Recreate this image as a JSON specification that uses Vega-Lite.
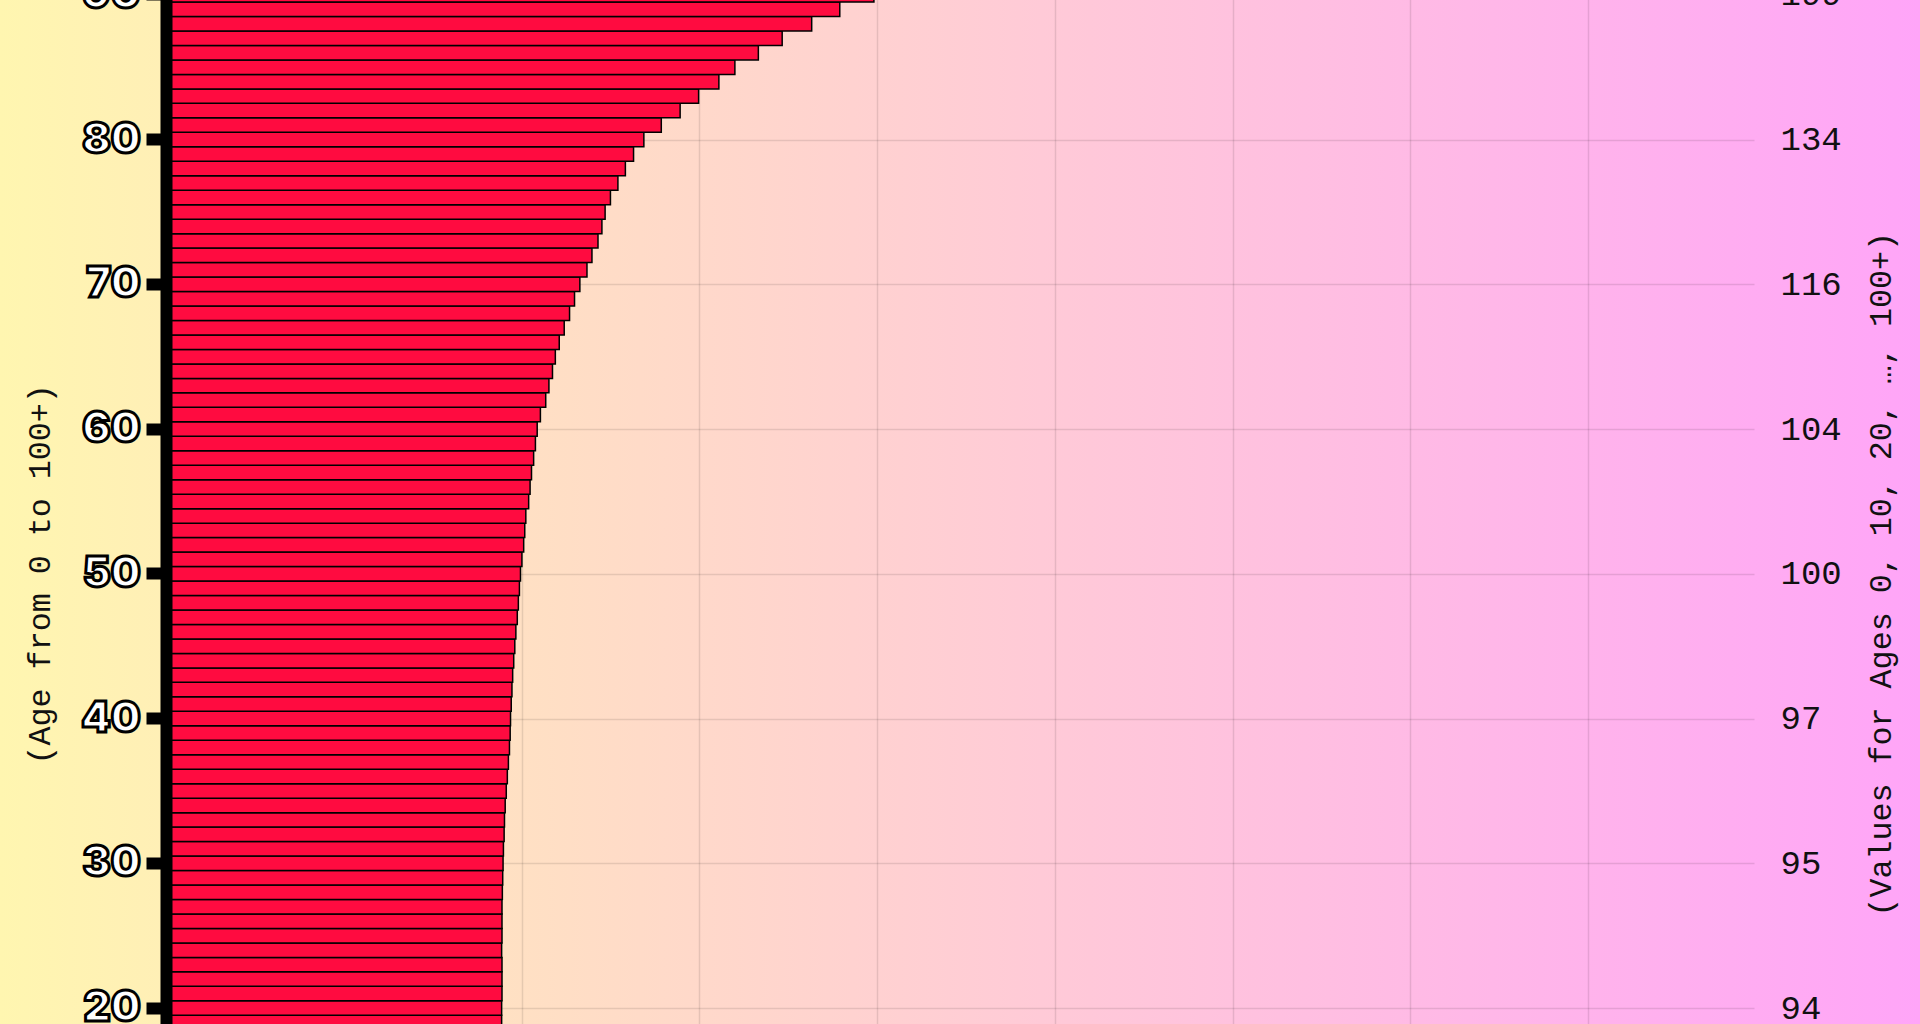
{
  "$schema": "https://vega.github.io/schema/vega-lite/v6.json",
  "width": 1920,
  "height": 1024,
  "autosize": {"type": "none"},
  "padding": 0,
  "background": "#fff6b0",
  "view": {
    "stroke": null,
    "fill": {
      "gradient": "linear",
      "x1": 0, "y1": 0, "x2": 1, "y2": 0,
      "stops": [
        {"offset": 0, "color": "#fff6b0"},
        {"offset": 1, "color": "#ffa5f8"}
      ]
    }
  },
  "data": {
    "values": [
      {"Age": 0, "Value": 100.0}, {"Age": 1, "Value": 96.0}, {"Age": 2, "Value": 95.0},
      {"Age": 3, "Value": 94.6}, {"Age": 4, "Value": 94.4}, {"Age": 5, "Value": 94.3},
      {"Age": 6, "Value": 94.2}, {"Age": 7, "Value": 94.2}, {"Age": 8, "Value": 94.1},
      {"Age": 9, "Value": 94.1}, {"Age": 10, "Value": 94.1}, {"Age": 11, "Value": 94.1},
      {"Age": 12, "Value": 94.2}, {"Age": 13, "Value": 94.2}, {"Age": 14, "Value": 94.2},
      {"Age": 15, "Value": 94.3}, {"Age": 16, "Value": 94.3}, {"Age": 17, "Value": 94.3},
      {"Age": 18, "Value": 94.4}, {"Age": 19, "Value": 94.4}, {"Age": 20, "Value": 94.4},
      {"Age": 21, "Value": 94.5}, {"Age": 22, "Value": 94.5}, {"Age": 23, "Value": 94.5},
      {"Age": 24, "Value": 94.4}, {"Age": 25, "Value": 94.5}, {"Age": 26, "Value": 94.5},
      {"Age": 27, "Value": 94.5}, {"Age": 28, "Value": 94.6}, {"Age": 29, "Value": 94.7},
      {"Age": 30, "Value": 94.8}, {"Age": 31, "Value": 94.9}, {"Age": 32, "Value": 95.1},
      {"Age": 33, "Value": 95.2}, {"Age": 34, "Value": 95.4}, {"Age": 35, "Value": 95.7},
      {"Age": 36, "Value": 96.0}, {"Age": 37, "Value": 96.3}, {"Age": 38, "Value": 96.6},
      {"Age": 39, "Value": 96.8}, {"Age": 40, "Value": 96.9}, {"Age": 41, "Value": 97.1},
      {"Age": 42, "Value": 97.3}, {"Age": 43, "Value": 97.5}, {"Age": 44, "Value": 97.8},
      {"Age": 45, "Value": 98.1}, {"Age": 46, "Value": 98.4}, {"Age": 47, "Value": 98.8},
      {"Age": 48, "Value": 99.1}, {"Age": 49, "Value": 99.4}, {"Age": 50, "Value": 99.7},
      {"Age": 51, "Value": 100.1}, {"Age": 52, "Value": 100.6}, {"Age": 53, "Value": 100.9},
      {"Age": 54, "Value": 101.2}, {"Age": 55, "Value": 102.0}, {"Age": 56, "Value": 102.4},
      {"Age": 57, "Value": 102.8}, {"Age": 58, "Value": 103.4}, {"Age": 59, "Value": 103.9},
      {"Age": 60, "Value": 104.4}, {"Age": 61, "Value": 105.3}, {"Age": 62, "Value": 106.8},
      {"Age": 63, "Value": 107.7}, {"Age": 64, "Value": 108.7}, {"Age": 65, "Value": 109.5},
      {"Age": 66, "Value": 110.6}, {"Age": 67, "Value": 112.0}, {"Age": 68, "Value": 113.5},
      {"Age": 69, "Value": 114.9}, {"Age": 70, "Value": 116.4}, {"Age": 71, "Value": 118.4},
      {"Age": 72, "Value": 119.8}, {"Age": 73, "Value": 121.5}, {"Age": 74, "Value": 122.6},
      {"Age": 75, "Value": 123.5}, {"Age": 76, "Value": 125.0}, {"Age": 77, "Value": 127.1},
      {"Age": 78, "Value": 129.2}, {"Age": 79, "Value": 131.5}, {"Age": 80, "Value": 134.4},
      {"Age": 81, "Value": 139.3}, {"Age": 82, "Value": 144.6}, {"Age": 83, "Value": 149.8},
      {"Age": 84, "Value": 155.5}, {"Age": 85, "Value": 160.0}, {"Age": 86, "Value": 166.6},
      {"Age": 87, "Value": 173.3}, {"Age": 88, "Value": 181.6}, {"Age": 89, "Value": 189.5},
      {"Age": 90, "Value": 199.1}, {"Age": 91, "Value": 209.0}, {"Age": 92, "Value": 220.0},
      {"Age": 93, "Value": 232.0}, {"Age": 94, "Value": 246.0}, {"Age": 95, "Value": 262.0},
      {"Age": 96, "Value": 280.0}, {"Age": 97, "Value": 300.0}, {"Age": 98, "Value": 323.0},
      {"Age": 99, "Value": 350.0}, {"Age": 100, "Value": 420.0}
    ]
  },
  "encoding": {
    "x": {
      "field": "Value",
      "type": "quantitative",
      "scale": {"domain": [0, 450], "range": [166, 1766], "nice": false, "zero": true},
      "axis": {
        "orient": "bottom",
        "values": [0, 50, 100, 150, 200, 250, 300, 350, 400],
        "grid": true,
        "gridColor": "#000000",
        "gridOpacity": 0.1,
        "gridWidth": 1.5,
        "domain": false,
        "ticks": false,
        "labels": false,
        "title": null,
        "zindex": 0
      }
    }
  },
  "layer": [
    {
      "mark": {"type": "bar", "fill": "#ff0b40", "stroke": "#000000", "strokeWidth": 1.5},
      "encoding": {
        "y": {
          "field": "Age",
          "type": "ordinal",
          "sort": "descending",
          "scale": {"range": [-157.2, 1304.8], "paddingInner": 0, "paddingOuter": 0},
          "axis": {
            "orient": "left",
            "offset": -166,
            "zindex": 1,
            "grid": false,
            "values": [0, 10, 20, 30, 40, 50, 60, 70, 80, 90, 100],
            "domainColor": "#000000",
            "domainWidth": 12,
            "tickColor": "#000000",
            "tickWidth": 12,
            "tickSize": 20,
            "labelPadding": 6,
            "labelFont": "Inter",
            "labelFontSize": 42,
            "labelFontWeight": 900,
            "labelColor": "#ffffff",
            "labelAngle": 0,
            "encoding": {
              "labels": {
                "stroke": {"value": "#000000"},
                "strokeWidth": {"value": 3}
              }
            },
            "title": "(Age from 0 to 100+)",
            "titleFont": "Liberation Mono",
            "titleFontSize": 31.7,
            "titleFontWeight": "normal",
            "titleColor": "#111111",
            "titlePadding": 5
          }
        }
      }
    },
    {
      "mark": {"type": "point", "opacity": 0},
      "encoding": {
        "y": {
          "field": "Age",
          "type": "ordinal",
          "sort": "descending",
          "scale": {"range": [-157.2, 1304.8], "paddingInner": 0, "paddingOuter": 0},
          "axis": {
            "orient": "right",
            "offset": -154,
            "zindex": 0,
            "grid": true,
            "gridColor": "#000000",
            "gridOpacity": 0.1,
            "gridWidth": 1.5,
            "values": [0, 10, 20, 30, 40, 50, 60, 70, 80, 90, 100],
            "domain": false,
            "ticks": false,
            "tickSize": 0,
            "labelPadding": 14,
            "labelExpr": "datum.value == 0 ? '100' : datum.value == 10 ? '94' : datum.value == 20 ? '94' : datum.value == 30 ? '95' : datum.value == 40 ? '97' : datum.value == 50 ? '100' : datum.value == 60 ? '104' : datum.value == 70 ? '116' : datum.value == 80 ? '134' : datum.value == 90 ? '199' : '420'",
            "labelFont": "Liberation Mono",
            "labelFontSize": 34,
            "labelColor": "#111111",
            "labelAngle": 0,
            "title": "(Values for Ages 0, 10, 20, …, 100+)",
            "titleFont": "Liberation Mono",
            "titleFontSize": 31.7,
            "titleFontWeight": "normal",
            "titleColor": "#111111",
            "titleAngle": 270,
            "titleBaseline": "top",
            "titlePadding": 24
          }
        }
      }
    }
  ],
  "resolve": {"scale": {"y": "independent"}}
}
